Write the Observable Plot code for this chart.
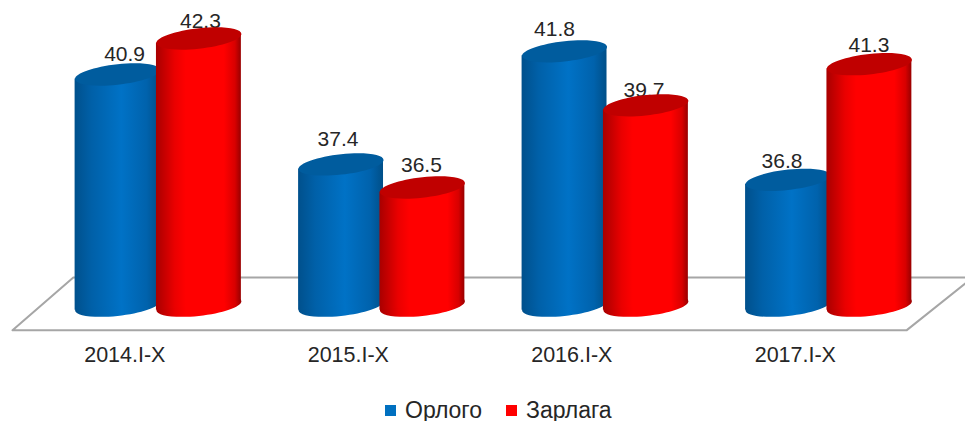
<!DOCTYPE html>
<html>
<head>
<meta charset="utf-8">
<script src="https://cdn.jsdelivr.net/npm/d3@7"></script>
<script src="https://cdn.jsdelivr.net/npm/@observablehq/plot@0.6"></script>
<style>
html,body{margin:0;padding:0;background:#fff;overflow:hidden}
#legend{height:26px;box-sizing:border-box;padding-top:4px;display:flex;align-items:center;padding-left:385px;font:23px "Liberation Sans",Arial,sans-serif;color:#262626}
#legend i{display:inline-block;width:11px;height:11px;margin-right:9px}
#legend span{display:flex;align-items:center;margin-right:24px}
</style>
</head>
<body>
<div id="chart"></div>
<div id="legend"></div>
<script>
const periods = ["2014.I-X", "2015.I-X", "2016.I-X", "2017.I-X"];
const orlogo = [40.9, 37.4, 41.8, 36.8];
const zarlaga = [42.3, 36.5, 39.7, 41.3];
const baseValue = 31.9;

// Hand-placed data-label nudges of the original chart (px)
const orlogoLabelDx = [7, -3, -10, -6];
const orlogoLabelDy = [-20.5, -25, -22, -19];
const zarlagaLabelDx = [1.5, -1, -2, -0.5];
const zarlagaLabelDy = [-17.5, -22.5, -15, -19];

// Floor of the 3D chart, in scale units
const floorX = [3.61, -0.38, -0.652, 3.348, 3.612];
const floorY = [33.0, 33.0, 30.94, 30.94, 32.77];

const seriesOffset = 0.182, halfWidth = 0.19;
const tilt = 4.5 / 42.5, capRatio = 0.24;
const K = 0.5523;
const ellipse = {
  draw(ctx, size) {
    const rx = Math.sqrt(size / Math.PI), ry = rx * capRatio;
    const P = (x, y) => [x, y - tilt * x];
    ctx.moveTo(...P(rx, 0));
    ctx.bezierCurveTo(...P(rx, K * ry), ...P(K * rx, ry), ...P(0, ry));
    ctx.bezierCurveTo(...P(-K * rx, ry), ...P(-rx, K * ry), ...P(-rx, 0));
    ctx.bezierCurveTo(...P(-rx, -K * ry), ...P(-K * rx, -ry), ...P(0, -ry));
    ctx.bezierCurveTo(...P(K * rx, -ry), ...P(rx, -K * ry), ...P(rx, 0));
    ctx.closePath();
  }
};
const skew = (index, scales, values, dims, ctx, next) => {
  const g = next(index, scales, values, dims, ctx);
  d3.select(g).selectAll("rect").each(function () {
    const cx = +this.getAttribute("x") + this.getAttribute("width") / 2;
    const deg = Math.atan(tilt) * 180 / Math.PI;
    this.setAttribute("transform", `translate(${cx} 0) skewY(${-deg}) translate(${-cx} 0)`);
  });
  return g;
};
const gradient = (id, stops) => () => {
  const g = d3.create("svg:linearGradient").attr("id", id);
  stops.forEach(([o, c]) => g.append("stop").attr("offset", o).attr("stop-color", c));
  return g.node();
};

const textColor = "#262626";
const series = [
  {values: orlogo, off: -seriesOffset, grad: "blueBody", cap: "#005c9e", dx: orlogoLabelDx, dy: orlogoLabelDy},
  {values: zarlaga, off: seriesOffset, grad: "redBody", cap: "#c00000", dx: zarlagaLabelDx, dy: zarlagaLabelDy}
];

const marks = [
  gradient("blueBody", [[0, "#00508c"], [0.2, "#0060a8"], [0.55, "#0072c6"], [0.85, "#0062ac"], [1, "#004f88"]]),
  gradient("redBody", [[0, "#a80000"], [0.22, "#ea0000"], [0.35, "#ff0000"], [0.8, "#ff0000"], [0.93, "#d80000"], [1, "#980000"]]),
  Plot.line(floorX.map((x, i) => [x, floorY[i]]), {x: "0", y: "1", stroke: "#a6a6a6", strokeWidth: 2, curve: "linear"}),
  Plot.axisX({
    ticks: periods.map((_, i) => i - 0.1495),
    tickFormat: (t) => periods[Math.round(t + 0.1495)],
    tickSize: 0, tickPadding: 1, label: null, fontSize: 21.5,
    fontFamily: "Liberation Sans", fill: textColor
  })
];
for (const s of series) {
  s.values.forEach((v, i) => {
    marks.push(Plot.text([v], {
      x: () => i + s.off, y: (d) => d, text: (d) => d.toFixed(1),
      dx: s.dx[i], dy: s.dy[i], fontSize: 21, fontFamily: "Liberation Sans", fill: textColor
    }));
  });
}
for (const s of series) {
  const idx = d3.range(s.values.length);
  marks.push(
    Plot.dot(idx, {x: (i) => i + s.off, y: () => baseValue, r: 42.5, symbol: ellipse, fill: `url(#${s.grad})`, stroke: "none"}),
    Plot.rect(idx, {
      x1: (i) => i + s.off - halfWidth, x2: (i) => i + s.off + halfWidth,
      y1: () => baseValue, y2: (i) => s.values[i], fill: `url(#${s.grad})`, render: skew
    }),
    Plot.dot(idx, {x: (i) => i + s.off, y: (i) => s.values[i], r: 42.5, symbol: ellipse, fill: s.cap, stroke: "none"})
  );
}

document.getElementById("chart").append(Plot.plot({
  width: 965, height: 395,
  marginLeft: 0, marginRight: 0, marginTop: 0, marginBottom: 50,
  style: {background: "#fff", display: "block"},
  x: {type: "linear", domain: [-0.7058, 3.612], axis: null},
  y: {type: "linear", domain: [30.35, 43.78], axis: null},
  marks
}));

const legend = d3.select("#legend");
[["Орлого", "#0070c0"], ["Зарлага", "#ff0000"]].forEach(([name, color]) => {
  const item = legend.append("span");
  item.append("i").style("background", color);
  item.append("b").style("font-weight", "normal").text(name);
});
</script>
</body>
</html>
